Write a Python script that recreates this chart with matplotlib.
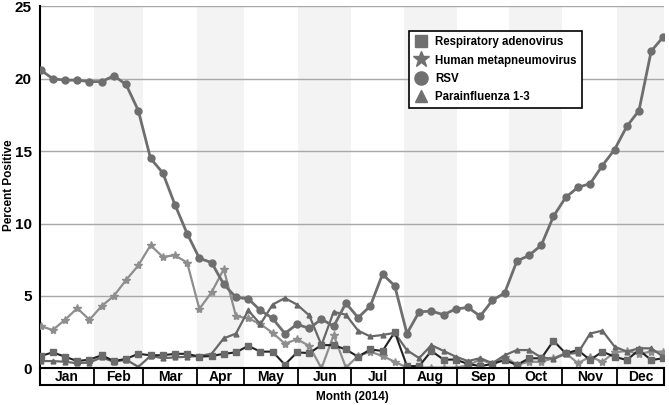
import matplotlib
matplotlib.use("Agg")
import matplotlib.pyplot as plt
from matplotlib.lines import Line2D

plt.rcParams['font.family'] = ['Liberation Sans', 'DejaVu Sans']

# Datos semanales 2014 (52 semanas)
weeks = list(range(52))
rsv = [20.6, 20.0, 19.9, 19.9, 19.8, 19.8, 20.2, 19.6, 17.8, 14.5,
       13.5, 11.3, 9.3, 7.6, 7.3, 5.8, 4.9, 4.8, 4.0, 3.45,
       2.4, 3.05, 2.75, 3.4, 2.9, 4.5, 3.5, 4.3, 6.5, 5.7,
       2.4, 3.9, 3.95, 3.7, 4.1, 4.2, 3.6, 4.7, 5.2, 7.4,
       7.8, 8.5, 10.5, 11.8, 12.5, 12.75, 14.0, 15.1, 16.7, 17.8,
       21.9, 22.9]
hmpv = [2.9, 2.65, 3.35, 4.15, 3.35, 4.3, 5.0, 6.1, 7.1, 8.5,
        7.7, 7.8, 7.3, 4.1, 5.25, 6.85, 3.6, 3.45, 3.05, 2.45,
        1.7, 2.0, 1.55, 0.0, 2.3, 0.05, 0.85, 1.15, 0.85, 0.45,
        0.05, 0.05, 0.05, 0.05, 0.05, 0.2, 0.6, 0.3, 0.8, 0.25,
        0.45, 0.45, 0.7, 1.05, 0.35, 0.8, 0.45, 1.1, 1.2, 1.0,
        1.15, 1.15]
adeno = [0.85, 1.1, 0.8, 0.5, 0.6, 0.9, 0.5, 0.65, 1.0, 0.9,
         0.9, 1.0, 1.0, 0.8, 0.85, 1.0, 1.1, 1.55, 1.15, 1.15,
         0.25, 1.1, 1.05, 1.6, 1.6, 1.3, 0.8, 1.3, 1.2, 2.5,
         0.15, 0.15, 1.2, 0.6, 0.6, 0.3, 0.15, 0.3, 0.57, 0.23,
         0.69, 0.69, 1.9, 1.03, 1.26, 0.57, 1.15, 0.8, 0.57, 1.26,
         0.57, 0.69]
para = [0.5, 0.5, 0.45, 0.35, 0.4, 0.75, 0.45, 0.6, 0.1, 0.85,
        0.7, 0.75, 0.8, 0.85, 1.0, 2.07, 2.4, 4.0, 3.05, 4.4,
        4.85, 4.4, 3.65, 1.6, 3.9, 3.7, 2.6, 2.2, 2.3, 2.45,
        1.25, 0.7, 1.6, 1.2, 0.8, 0.5, 0.7, 0.35, 0.9, 1.26,
        1.26, 0.75, 0.65, 1.0, 1.05, 2.4, 2.6, 1.5, 1.15, 1.38,
        1.38, 0.8]

months = ['Jan', 'Feb', 'Mar', 'Apr', 'May', 'Jun',
          'Jul', 'Aug', 'Sep', 'Oct', 'Nov', 'Dec']
# limites de cada mes en unidades de semana
month_edges = [-0.05, 4.36, 8.37, 12.82, 16.64, 21.09, 25.45,
               29.73, 34.08, 38.38, 42.72, 47.2, 51.05]
yticks = [0, 5, 10, 15, 20, 25]

fig = plt.figure(figsize=(6.69, 4.05), dpi=100)
left, width = 40 / 669, 624 / 669
ax = fig.add_axes([left, 1 - 368.3 / 405, width, 362 / 405])

# bandas sombreadas (meses alternos)
for i in range(1, 12, 2):
    ax.axvspan(month_edges[i], month_edges[i + 1], color='#f3f3f3', zorder=0, lw=0)

for y in yticks[1:]:
    ax.axhline(y, color='#a8a8a8', lw=1.0, zorder=1)

ax.plot(weeks, hmpv, color='#8e8e8e', lw=1.6, marker='*', ms=6, zorder=3)
ax.plot(weeks, para, color='#686868', lw=1.6, marker='^', ms=3.5, zorder=4)
ax.plot(weeks, adeno, color='#222222', lw=1.5, marker='s', ms=4.5,
        mfc='#6a6a6a', mec='#6a6a6a', zorder=5)
ax.plot(weeks, rsv, color='#6e6e6e', lw=2.0, marker='o', ms=5, zorder=6)

ax.set_xlim(month_edges[0], month_edges[-1])
ax.set_ylim(0, 25)
ax.set_yticks(yticks)
ax.set_xticks([])
ax.tick_params(axis='y', length=0, pad=6, labelsize=11)
for t in ax.get_yticklabels():
    t.set_fontweight('bold')
for s in ['top', 'right', 'bottom']:
    ax.spines[s].set_visible(False)
ax.spines['left'].set_linewidth(1.5)
ax.spines['left'].set_color('black')

# fila de meses
axm = fig.add_axes([left, 1 - 384.5 / 405, width, 16.2 / 405])
axm.set_xlim(month_edges[0], month_edges[-1])
axm.set_ylim(0, 1)
axm.set_xticks([])
axm.set_yticks([])
for s in axm.spines.values():
    s.set_linewidth(1.5)
    s.set_color('black')
for i, m in enumerate(months):
    if i > 0:
        axm.axvline(month_edges[i], color='black', lw=1.3)
    axm.text((month_edges[i] + month_edges[i + 1]) / 2, 0.45, m,
             ha='center', va='center', fontsize=10, fontweight='bold')

fig.text(352 / 669, 1 - 397 / 405, 'Month (2014)', ha='center', va='center',
         fontsize=8.5, fontweight='bold')
fig.text(9 / 669, 1 - 185 / 405, 'Percent Positive', ha='center', va='center',
         rotation=90, fontsize=8.5, fontweight='bold')

gray = '#707070'
handles = [
    Line2D([], [], ls='none', marker='s', ms=9, color=gray),
    Line2D([], [], ls='none', marker='*', ms=12, color=gray),
    Line2D([], [], ls='none', marker='o', ms=9.5, color=gray),
    Line2D([], [], ls='none', marker='^', ms=9, color=gray),
]
labels = ['Respiratory adenovirus', 'Human metapneumovirus', 'RSV', 'Parainfluenza 1-3']
leg = fig.legend(handles, labels, loc='upper left', bbox_to_anchor=(409 / 669, 1 - 31 / 405),
                 frameon=True, fancybox=False, edgecolor='black', framealpha=1,
                 prop={'size': 8.3, 'weight': 'bold'}, handlelength=1.1,
                 handletextpad=0.7, labelspacing=0.55, borderpad=0.45, borderaxespad=0)
leg.get_frame().set_linewidth(1.2)

fig.savefig('out.png', dpi=100)
